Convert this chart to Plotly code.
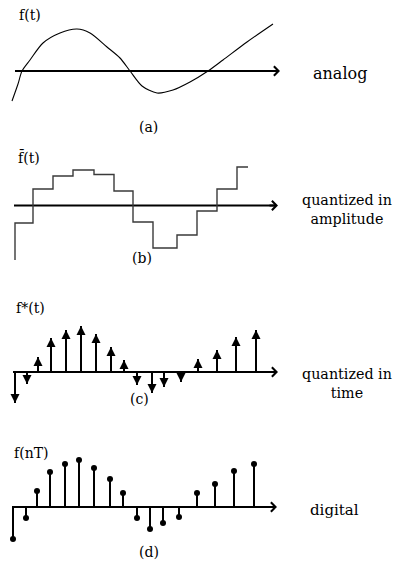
import plotly.graph_objects as go

W, H = 400, 563
FONT = "DejaVu Serif"

# (a) analog signal
t_analog = [1.2, 1.8, 2.2, 3.0, 4.3, 6.0, 7.7, 9.0, 10.7, 12.0, 13.0, 14.2,
            15.7, 17.3, 19.0, 20.8, 22.3, 24.7, 27.3]
f_analog = [-3.0, -1.3, 0.0, 1.1, 2.8, 3.8, 4.2, 3.8, 2.4, 1.3, 0.0, -1.5,
            -2.2, -1.9, -1.1, 0.0, 1.1, 2.9, 4.7]

# (b) amplitude-quantized staircase: step start times and held levels
t_quant = [1.5, 1.5, 3.3, 5.3, 7.3, 9.4, 11.4, 13.3, 15.3, 17.7, 19.7, 21.7, 23.7, 24.8]
f_quant = [-5.45, -1.75, 1.65, 2.95, 3.55, 3.1, 1.45, -1.65, -4.25, -2.95, -0.55, 1.65, 3.85, 3.85]

# (c) time-sampled impulses
t_samp = [1.5, 2.7, 3.8, 5.1, 6.6, 8.1, 9.6, 11.1, 12.4, 13.7, 15.2, 16.4,
          18.1, 19.8, 21.7, 23.6, 25.6]
f_samp = [-3.1, -1.2, 1.5, 3.4, 4.2, 4.6, 3.8, 2.5, 1.2, -1.3, -2.1, -1.5,
          -1.0, 1.3, 2.2, 3.5, 4.2]

# (d) digital samples
t_dig = [1.3, 2.6, 3.7, 5.0, 6.5, 7.9, 9.4, 11.0, 12.3, 13.7, 15.0, 16.3,
         17.9, 19.7, 21.5, 23.4, 25.4]
f_dig = [-3.2, -1.1, 1.6, 3.5, 4.3, 4.7, 3.9, 2.8, 1.4, -1.1, -2.2, -1.6,
         -1.0, 1.4, 2.3, 3.6, 4.3]

# horizontal time axis extent for each panel (start, arrow tip)
axis_start = [1.5, 1.4, 1.3, 1.2]
axis_end = [28.0, 27.8, 27.8, 27.7]

panel_tags = ["(a)", "(b)", "(c)", "(d)"]
side_labels = ["analog", "quantized in<br>amplitude", "quantized in<br>time", "digital"]
func_labels = ["f(t)", "f\u0304(t)", "f*(t)", "f(nT)"]

# panel bands in pixels: top, bottom, zero line
bands = [(0, 140, 71.0), (140, 280, 205.5), (280, 420, 372.0), (420, 563, 507.0)]
PX_PER_UNIT = 10.0

fig = go.Figure()
layout = dict(
    width=W, height=H, margin=dict(l=0, r=0, t=0, b=0),
    paper_bgcolor="white", plot_bgcolor="white", showlegend=False,
    font=dict(family=FONT, color="black"),
)

for i, (top, bot, zero) in enumerate(bands):
    k = "" if i == 0 else str(i + 1)
    layout["xaxis" + k] = dict(range=[0, W / PX_PER_UNIT], domain=[0, 1], visible=False,
                               anchor="y" + k, fixedrange=True)
    layout["yaxis" + k] = dict(range=[-(bot - zero) / PX_PER_UNIT, (zero - top) / PX_PER_UNIT],
                               domain=[1 - bot / H, 1 - top / H], visible=False,
                               anchor="x" + k, fixedrange=True)

xa = ["x", "x2", "x3", "x4"]
ya = ["y", "y2", "y3", "y4"]

# time axes with open arrowheads
annotations = []
for i in range(4):
    fig.add_trace(go.Scatter(x=[axis_start[i], axis_end[i] - 0.3], y=[0, 0], mode="lines",
                             line=dict(color="black", width=2), xaxis=xa[i], yaxis=ya[i],
                             hoverinfo="skip"))
    annotations.append(dict(x=axis_end[i], y=0, ax=axis_end[i] - 1.0, ay=0,
                            xref=xa[i], yref=ya[i], axref=xa[i], ayref=ya[i],
                            showarrow=True, arrowhead=4, arrowsize=0.9, arrowwidth=2,
                            arrowcolor="black", text=""))

# (a) smooth analog curve
fig.add_trace(go.Scatter(x=t_analog, y=f_analog, mode="lines",
                         line=dict(color="black", width=1.1, shape="spline", smoothing=0.8),
                         xaxis="x", yaxis="y", hoverinfo="skip"))

# (b) staircase
fig.add_trace(go.Scatter(x=t_quant, y=f_quant, mode="lines",
                         line=dict(color="#3a3a3a", width=1.4, shape="hv"),
                         xaxis="x2", yaxis="y2", hoverinfo="skip"))


def stems(ts, fs):
    xs, ys = [], []
    for t, f in zip(ts, fs):
        xs += [t, t, None]
        ys += [0, f, None]
    return xs, ys


# (c) impulses with filled arrowheads
sx, sy = stems(t_samp, f_samp)
fig.add_trace(go.Scatter(x=sx, y=sy, mode="lines", line=dict(color="black", width=2),
                         xaxis="x3", yaxis="y3", hoverinfo="skip"))
for t, f in zip(t_samp, f_samp):
    back = 0.5 if f > 0 else -0.5
    annotations.append(dict(x=t, y=f, ax=t, ay=f - back,
                            xref="x3", yref="y3", axref="x3", ayref="y3",
                            showarrow=True, arrowhead=2, arrowsize=0.9, arrowwidth=2,
                            arrowcolor="black", text=""))

# (d) stems with dots
dx, dy = stems(t_dig, f_dig)
fig.add_trace(go.Scatter(x=dx, y=dy, mode="lines", line=dict(color="black", width=2),
                         xaxis="x4", yaxis="y4", hoverinfo="skip"))
fig.add_trace(go.Scatter(x=t_dig, y=f_dig, mode="markers",
                         marker=dict(symbol="circle", size=6, color="black", line=dict(width=0)),
                         xaxis="x4", yaxis="y4", hoverinfo="skip"))

# text: function names, side captions, panel tags
func_pos = [(3.0, 5.6), (2.9, 4.85), (3.0, 6.4), (3.1, 5.4)]
side_pos = [(34.0, -0.2), (34.7, -0.4), (34.7, -1.15), (33.4, -0.3)]
tag_pos = [(14.8, -5.6), (14.2, -5.25), (13.9, -2.7), (14.9, -4.5)]
side_sizes = [16, 14.3, 14.3, 15]

for i in range(4):
    annotations.append(dict(x=func_pos[i][0], y=func_pos[i][1], xref=xa[i], yref=ya[i],
                            text=func_labels[i], showarrow=False,
                            font=dict(family=FONT, size=14, color="black")))
    annotations.append(dict(x=side_pos[i][0], y=side_pos[i][1], xref=xa[i], yref=ya[i],
                            text=side_labels[i], showarrow=False, align="center",
                            font=dict(family=FONT, size=side_sizes[i], color="black")))
    annotations.append(dict(x=tag_pos[i][0], y=tag_pos[i][1], xref=xa[i], yref=ya[i],
                            text=panel_tags[i], showarrow=False,
                            font=dict(family=FONT, size=14, color="black")))

layout["annotations"] = annotations
fig.update_layout(**layout)
fig.write_html("out.html")
